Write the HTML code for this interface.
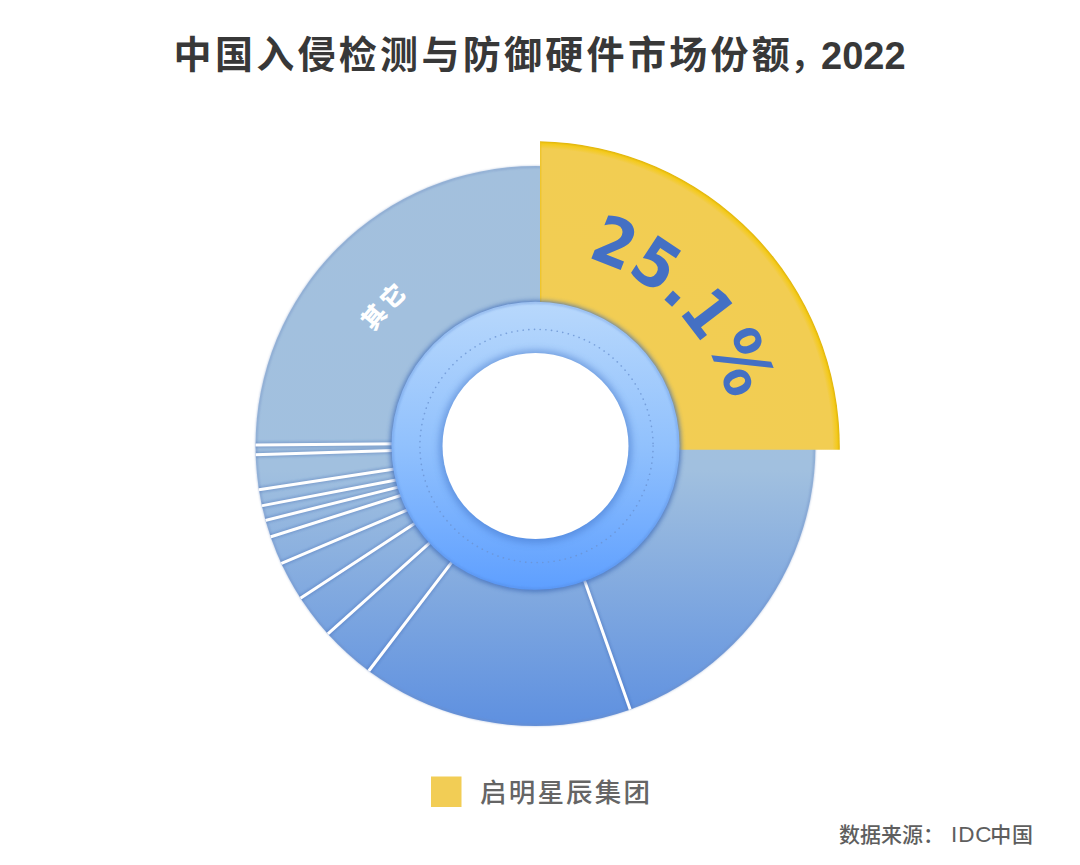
<!DOCTYPE html>
<html>
<head>
<meta charset="utf-8">
<style>
html,body{margin:0;padding:0;background:#fff;}
body{width:1080px;height:865px;overflow:hidden;position:relative;}
svg{position:absolute;left:0;top:0;}
.title{font-family:"Liberation Sans","Noto Sans CJK SC",sans-serif;font-weight:700;font-size:38px;fill:#383838;}
.legend{font-family:"Liberation Sans","Noto Sans CJK SC",sans-serif;font-weight:500;font-size:26.5px;fill:#656565;}
.src{font-family:"Liberation Sans","Noto Sans CJK SC",sans-serif;font-weight:500;font-size:21px;fill:#5e5e5e;}
.pct{font-family:"DejaVu Sans Condensed","DejaVu Sans",sans-serif;font-stretch:condensed;font-weight:700;font-size:66px;fill:#4470C4;}
.other{font-family:"Liberation Sans","Noto Sans CJK SC",sans-serif;font-weight:900;font-size:24px;fill:#fff;}
</style>
</head>
<body>
<svg width="1080" height="865" viewBox="0 0 1080 865">
<defs>
  <linearGradient id="gDonut" gradientUnits="userSpaceOnUse" x1="0" y1="166" x2="0" y2="726">
    <stop offset="0" stop-color="#A3C0DD"/>
    <stop offset="0.543" stop-color="#A1C0DF"/>
    <stop offset="1" stop-color="#5E90E0"/>
  </linearGradient>
  <linearGradient id="gRing" gradientUnits="userSpaceOnUse" x1="0" y1="302" x2="0" y2="590">
    <stop offset="0" stop-color="#B8D8FC"/>
    <stop offset="0.5" stop-color="#91C1FD"/>
    <stop offset="1" stop-color="#5E9FFF"/>
  </linearGradient>
  <filter id="fShadow" x="-20%" y="-20%" width="140%" height="140%">
    <feGaussianBlur stdDeviation="3"/>
  </filter>
  <filter id="fSoft" x="-20%" y="-20%" width="140%" height="140%">
    <feGaussianBlur stdDeviation="1.2"/>
  </filter>
  <clipPath id="cDonut"><circle cx="535.5" cy="446" r="280"/></clipPath>
  <filter id="fEdge" x="-10%" y="-10%" width="120%" height="120%"><feGaussianBlur stdDeviation="0.8"/></filter>
  <filter id="fHole" x="-10%" y="-10%" width="120%" height="120%"><feGaussianBlur stdDeviation="0.75"/></filter>
  <filter id="fHoleSh" x="-20%" y="-20%" width="140%" height="140%"><feGaussianBlur stdDeviation="3.6"/></filter>
  <filter id="fRingSh" x="-10%" y="-10%" width="120%" height="120%"><feGaussianBlur stdDeviation="2"/></filter>
  <radialGradient id="gYel" gradientUnits="userSpaceOnUse" cx="533.7" cy="447.3" r="306.6">
    <stop offset="0" stop-color="#F2CD55"/>
    <stop offset="0.974" stop-color="#F2CD52"/>
    <stop offset="0.99" stop-color="#F4CA1C"/>
    <stop offset="0.997" stop-color="#E2B70C"/>
    <stop offset="1" stop-color="#E8C040"/>
  </radialGradient>
  <path id="arcPct" d="M 535.5 251 A 195 195 0 0 1 730.5 446"/>
  <path id="arcOther" d="M 337.5 446 A 198 198 0 0 1 535.5 248"/>
</defs>

<!-- title -->
<text class="title" x="173.6" y="68" letter-spacing="3.3">中国入侵检测与防御硬件市场份额<tspan dx="-3" font-weight="500">，</tspan></text>
<text class="title" x="821" y="68.8" letter-spacing="0">2022</text>

<!-- blue donut -->
<circle cx="535.5" cy="446" r="280" fill="url(#gDonut)"/>
<circle cx="535.5" cy="446" r="279.2" fill="none" stroke="#6E8CC2" stroke-opacity="0.6" stroke-width="1.6" filter="url(#fEdge)"/>

<!-- separators -->
<g clip-path="url(#cDonut)">
<g stroke="#3A62A8" stroke-opacity="0.28" stroke-width="6.5" filter="url(#fEdge)">
  <line x1="252.2" y1="445.0" x2="402.0" y2="443.8"/>
  <line x1="252.2" y1="454.8" x2="402.5" y2="450.2"/>
  <line x1="255.7" y1="490.2" x2="402.8" y2="467.7"/>
  <line x1="258.6" y1="506.4" x2="405.3" y2="478.2"/>
  <line x1="262.1" y1="521.2" x2="407.2" y2="484.9"/>
  <line x1="267.0" y1="538.0" x2="410.1" y2="492.5"/>
  <line x1="277.4" y1="565.2" x2="415.5" y2="506.5"/>
  <line x1="298.1" y1="599.8" x2="421.9" y2="518.8"/>
  <line x1="325.9" y1="635.7" x2="436.1" y2="537.2"/>
  <line x1="366.8" y1="673.5" x2="457.0" y2="555.4"/>
  <line x1="631.6" y1="713.4" x2="581.5" y2="572.1"/>
</g>
<g stroke="#fff" stroke-width="3">
  <line x1="252.2" y1="445.0" x2="402.0" y2="443.8"/>
  <line x1="252.2" y1="454.8" x2="402.5" y2="450.2"/>
  <line x1="255.7" y1="490.2" x2="402.8" y2="467.7"/>
  <line x1="258.6" y1="506.4" x2="405.3" y2="478.2"/>
  <line x1="262.1" y1="521.2" x2="407.2" y2="484.9"/>
  <line x1="267.0" y1="538.0" x2="410.1" y2="492.5"/>
  <line x1="277.4" y1="565.2" x2="415.5" y2="506.5"/>
  <line x1="298.1" y1="599.8" x2="421.9" y2="518.8"/>
  <line x1="325.9" y1="635.7" x2="436.1" y2="537.2"/>
  <line x1="366.8" y1="673.5" x2="457.0" y2="555.4"/>
  <line x1="631.6" y1="713.4" x2="581.5" y2="572.1"/>
</g>
</g>

<!-- yellow slice -->
<path d="M 540 449.8 L 540 141.3 A 306.1 306.1 0 0 1 839.8 449.8 Z" fill="url(#gYel)"/>
<line x1="540.7" y1="142" x2="540.7" y2="449.8" stroke="#EEC21E" stroke-width="1.4" stroke-opacity="0.7"/>

<!-- inner ring -->
<circle cx="535.5" cy="446.2" r="146.2" fill="#3A66B2" opacity="0.6" filter="url(#fRingSh)"/>
<circle cx="535.5" cy="445.8" r="144" fill="url(#gRing)"/>
<circle cx="535.5" cy="445.8" r="143.2" fill="none" stroke="#4E7FD0" stroke-opacity="0.45" stroke-width="1.6" filter="url(#fEdge)"/>
<circle cx="536.5" cy="446" r="116.6" fill="none" stroke="#6B93D2" stroke-width="1.6" stroke-linecap="round" stroke-dasharray="0.1 5.6" opacity="0.8"/>
<circle cx="535.5" cy="446.5" r="96.5" fill="#3F72C6" opacity="0.5" filter="url(#fHoleSh)"/>
<circle cx="535.5" cy="446" r="93" fill="#fff" filter="url(#fHole)"/>

<!-- labels -->
<text class="pct"><textPath href="#arcPct" startOffset="51.8" letter-spacing="0.2">25.1<tspan font-size="70" dy="-3">%</tspan></textPath></text>
<text class="other"><textPath href="#arcOther" startOffset="47.6%" text-anchor="middle" letter-spacing="2.5">其它</textPath></text>

<!-- legend -->
<rect x="431" y="776.5" width="30.5" height="30.5" fill="#F2CD55"/>
<text class="legend" x="480" y="801.8" letter-spacing="2.2">启明星辰集团</text>

<!-- source -->
<text class="src" x="839" y="842">数据来源：<tspan x="951.1" letter-spacing="0.8" font-size="22.5">IDC</tspan><tspan x="990.3" letter-spacing="0.8">中国</tspan></text>
</svg>
</body>
</html>
